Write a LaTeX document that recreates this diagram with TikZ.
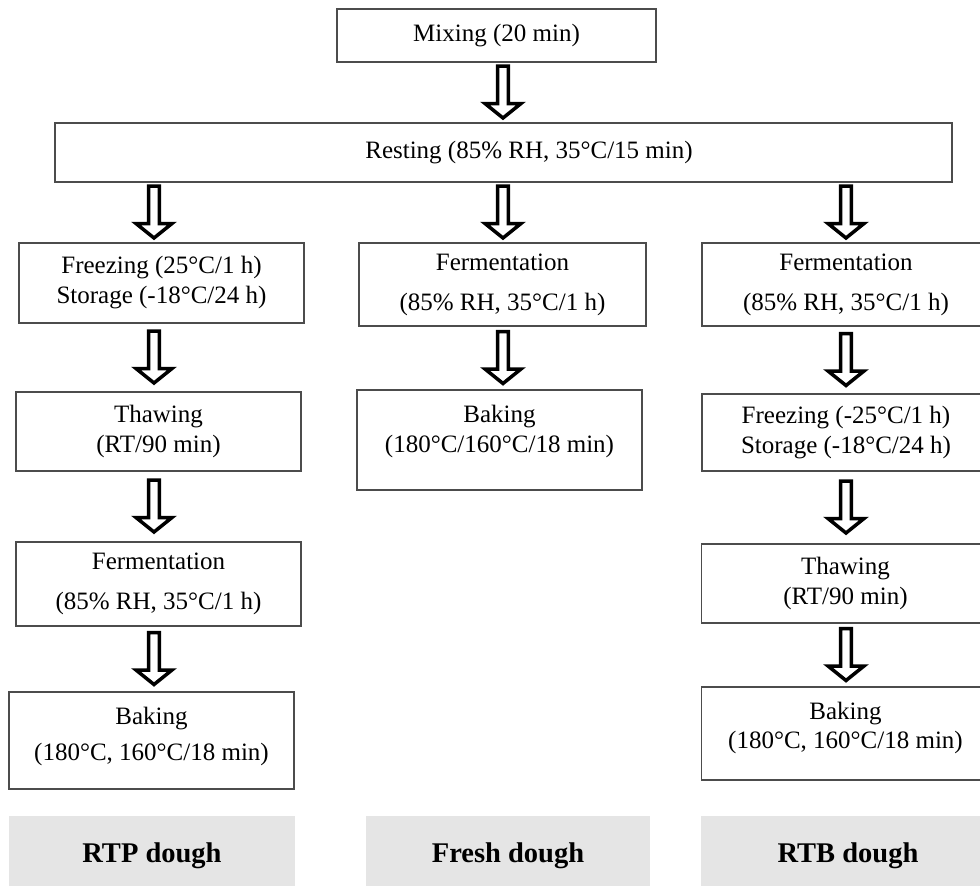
\documentclass[tikz,border=0pt]{standalone}
\usepackage{fontspec}
\setmainfont{Liberation Serif}
\usetikzlibrary{calc}

\tikzset{
procbox/.style={draw=black!70, line width=1.4pt, rectangle, inner sep=0pt,
  align=center, font=\fontsize{25}{30}\selectfont},
doughlabel/.style={fill=black!10, inner sep=0pt, font=\fontsize{28.5}{34}\selectfont\bfseries},
fatarrow/.style={draw=black, line width=3.5pt, to path={
  let \p1=(\tikztostart), \p2=(\tikztotarget), \n1={0.5*\y1+0.5*\y2} in
  ({\x2-5.3pt},{\n1+26.3pt}) -- ({\x2+5.3pt},{\n1+26.3pt}) -- ({\x2+5.3pt},{\n1-11pt})
  -- ({\x2+18pt},{\n1-11pt}) -- ({\x2},{\n1-25.5pt}) -- ({\x2-18pt},{\n1-11pt})
  -- ({\x2-5.3pt},{\n1-11pt}) -- cycle}}
}

\begin{document}
\begin{tikzpicture}[x=1pt, y=-1pt]
\useasboundingbox (0,0) rectangle (980,886);

% columns of the arrows
\coordinate (colL) at (154,0);
\coordinate (colM) at (503,0);
\coordinate (colR) at (846,0);

% common steps
\node[procbox, minimum width=319pt, minimum height=53pt] (mix) at (496.5,35.5) {Mixing (20 min)};
\node[procbox, minimum width=897pt, minimum height=59pt] (rest) at (503.5,152.5)
  {\hspace*{51pt}Resting (85\% RH, 35°C/15 min)};

% RTP dough
\node[procbox, minimum width=285pt, minimum height=80pt] (frz1) at (161.5,283)
  {Freezing (25°C/1 h)\\Storage (-18°C/24 h)};
\node[procbox, minimum width=285pt, minimum height=79pt] (thaw1) at (158.5,431.5)
  {Thawing\\(RT/90 min)};
\node[procbox, minimum width=285pt, minimum height=84pt] (fer1) at (158.5,584)
  {Fermentation\\[10pt](85\% RH, 35°C/1 h)};
\node[procbox, minimum width=285pt, minimum height=97pt, text depth=14pt] (bake1) at (151.5,740.5)
  {Baking\\[6pt](180°C, 160°C/18 min)};

% fresh dough
\node[procbox, minimum width=287pt, minimum height=83pt] (fer2) at (502.5,284.5)
  {Fermentation\\[10pt](85\% RH, 35°C/1 h)};
\node[procbox, minimum width=285pt, minimum height=100pt, text depth=22pt] (bake2) at (499.5,440)
  {Baking\\(180°C/160°C/18 min)};

% RTB dough (boxes run off the right edge)
\node[procbox, minimum width=288pt, minimum height=83pt] (fer3) at (846,284.5)
  {Fermentation\\[10pt](85\% RH, 35°C/1 h)};
\node[procbox, minimum width=288pt, minimum height=77pt] (frz3) at (846,432.5)
  {Freezing (-25°C/1 h)\\Storage (-18°C/24 h)};
\node[procbox, minimum width=288pt, minimum height=79pt] (thaw3) at (845.5,583.5)
  {Thawing\\(RT/90 min)};
\node[procbox, minimum width=288pt, minimum height=93pt, text depth=17pt] (bake3) at (845.5,733.5)
  {Baking\\[-1pt](180°C, 160°C/18 min)};

% hollow arrows between the steps
\draw[fatarrow] (mix.south -| colM) to (rest.north -| colM);
\foreach \col/\low in {colL/frz1, colM/fer2, colR/fer3}
  \draw[fatarrow] (rest.south -| \col) to (\low.north -| \col);
\foreach \up/\low in {frz1/thaw1, thaw1/fer1, fer1/bake1}
  \draw[fatarrow] (\up.south -| colL) to (\low.north -| colL);
\draw[fatarrow] (fer2.south -| colM) to (bake2.north -| colM);
\foreach \up/\low in {fer3/frz3, frz3/thaw3, thaw3/bake3}
  \draw[fatarrow] (\up.south -| colR) to (\low.north -| colR);

% dough names at the bottom
\foreach \name/\cx/\w/\txt in {rtp/152/286/RTP dough, fresh/508/284/Fresh dough, rtb/848/294/RTB dough}
  \node[doughlabel, minimum width=\w pt, minimum height=80pt] (\name) at (\cx,856) {\txt};
\end{tikzpicture}
\end{document}
